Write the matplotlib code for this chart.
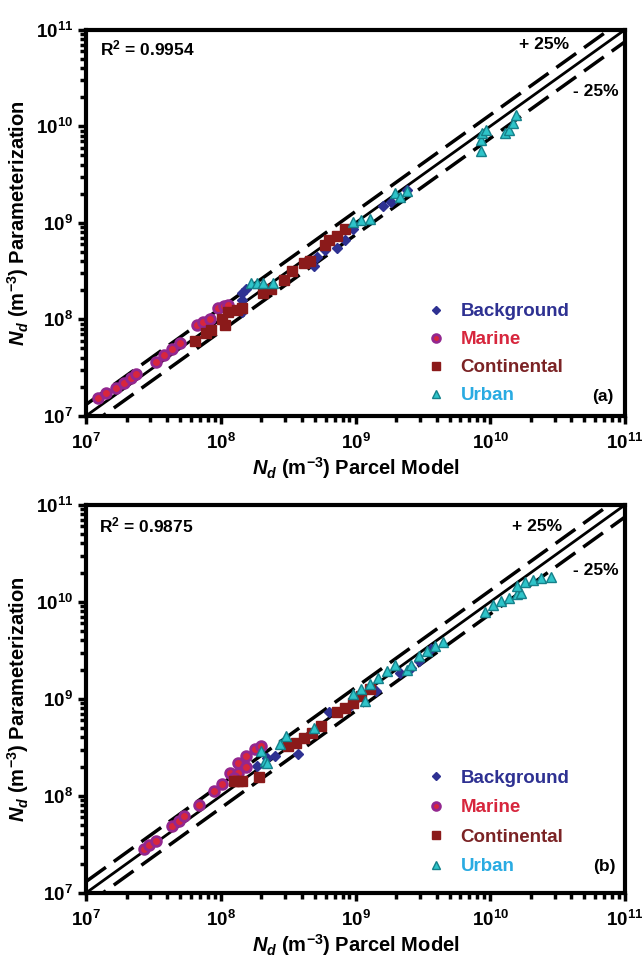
import numpy as np
import matplotlib
matplotlib.use("Agg")
import matplotlib.pyplot as plt
from matplotlib.ticker import LogLocator, FuncFormatter, NullFormatter

plt.rcParams['font.family'] = ['Liberation Sans', 'DejaVu Sans']
plt.rcParams['font.weight'] = 'bold'
plt.rcParams['mathtext.fontset'] = 'custom'
plt.rcParams['mathtext.rm'] = 'Liberation Sans:bold'
plt.rcParams['mathtext.bf'] = 'Liberation Sans:bold'
plt.rcParams['mathtext.it'] = 'Liberation Sans:bold:italic'

# log10 values, panel (a)
a_bg_x = [8.16, 8.16, 8.19, 8.16, 8.69, 8.71, 8.77, 8.86, 8.92, 8.98, 9.20, 9.26, 9.38]
a_bg_y = [8.20, 8.27, 8.31, 8.07, 8.55, 8.65, 8.72, 8.74, 8.82, 8.93, 9.17, 9.22, 9.34]
a_mar_x = [7.09, 7.15, 7.22, 7.28, 7.33, 7.37, 7.52, 7.58, 7.64, 7.70, 7.82, 7.87, 7.92, 7.98, 8.02, 8.05]
a_mar_y = [7.18, 7.24, 7.29, 7.34, 7.39, 7.43, 7.56, 7.63, 7.69, 7.75, 7.94, 7.97, 8.00, 8.12, 8.14, 8.15]
a_con_x = [7.81, 7.89, 7.93, 8.01, 8.03, 8.05, 8.12, 8.16, 8.31, 8.37, 8.47, 8.53, 8.62, 8.66,
           8.77, 8.80, 8.86, 8.92]
a_con_y = [7.77, 7.86, 7.89, 8.00, 7.94, 8.08, 8.10, 8.12, 8.27, 8.31, 8.41, 8.50, 8.58, 8.60,
           8.77, 8.82, 8.86, 8.93]
a_urb_x = [8.22, 8.27, 8.31, 8.39, 8.98, 9.04, 9.11, 9.29, 9.33, 9.38, 9.93, 9.93, 9.94, 9.97,
           10.11, 10.14, 10.17, 10.19]
a_urb_y = [8.38, 8.38, 8.38, 8.38, 9.01, 9.03, 9.04, 9.31, 9.27, 9.33, 9.74, 9.86, 9.93, 9.96,
           9.93, 9.96, 10.03, 10.12]

# log10 values, panel (b)
b_bg_x = [8.27, 8.34, 8.40, 8.57, 8.80, 8.96, 8.99, 9.15, 9.33, 9.41, 9.47, 9.56]
b_bg_y = [8.31, 8.39, 8.41, 8.43, 8.86, 8.93, 8.98, 9.08, 9.27, 9.32, 9.39, 9.51]
b_mar_x = [7.43, 7.47, 7.52, 7.64, 7.69, 7.73, 7.84, 7.95, 8.01, 8.07, 8.13, 8.19, 8.25, 8.30,
           8.13, 8.19, 8.10]
b_mar_y = [7.45, 7.49, 7.53, 7.69, 7.74, 7.79, 7.91, 8.05, 8.12, 8.24, 8.34, 8.41, 8.48, 8.51,
           8.24, 8.30, 8.18]
b_con_x = [8.10, 8.13, 8.16, 8.28, 8.50, 8.56, 8.62, 8.68, 8.74, 8.86, 8.92, 8.98, 9.04, 9.11]
b_con_y = [8.15, 8.15, 8.15, 8.19, 8.51, 8.54, 8.60, 8.65, 8.72, 8.86, 8.91, 8.96, 9.03, 9.10]
b_urb_x = [8.30, 8.33, 8.34, 8.44, 8.48, 8.69, 8.98, 9.04, 9.07, 9.11, 9.17, 9.23, 9.29, 9.38,
           9.41, 9.47, 9.53, 9.59, 9.65, 9.96, 10.02, 10.08, 10.14, 10.20, 10.23, 10.20, 10.26,
           10.32, 10.38, 10.45]
b_urb_y = [8.46, 8.36, 8.34, 8.53, 8.62, 8.70, 9.05, 9.10, 8.98, 9.15, 9.22, 9.29, 9.35, 9.30,
           9.35, 9.44, 9.49, 9.54, 9.59, 9.90, 9.97, 10.01, 10.04, 10.08, 10.09, 10.16, 10.20,
           10.23, 10.25, 10.26]

categories = ['Background', 'Marine', 'Continental', 'Urban']
r2_values = ['0.9954', '0.9875']
panel_tags = ['(a)', '(b)']
upper_factor = 1.31
lower_factor = 0.75

marker_styles = {
    'Background': dict(marker='D', ms=5, mfc='#2e3192', mec='#2e3192', mew=1),
    'Marine': dict(marker='o', ms=7, mfc='#d7263d', mec='#93278f', mew=2),
    'Continental': dict(marker='s', ms=7, mfc='#8b1a1a', mec='#8b1a1a', mew=1),
    'Urban': dict(marker='^', ms=7, mfc='#2ec4c9', mec='#15808a', mew=1),
}
label_colors = ['#2e3192', '#d7263d', '#7b2325', '#29abe2']


def tick_fmt(v, pos):
    return r'$10^{%d}$' % int(round(np.log10(v)))


def draw_panel(ax, series, r2, tag, txt_pos, leg_top, leg_space):
    lims = np.array([1e7, 1e11])
    ax.plot(lims, lims, color='black', lw=2.0, zorder=2)
    ax.plot(lims, lims * upper_factor, color='black', lw=2.5, ls=(0, (7, 2.8)), zorder=2)
    ax.plot(lims, lims * lower_factor, color='black', lw=2.5, ls=(0, (7, 2.8)), zorder=2)

    for name, (xs, ys) in zip(categories, series):
        ax.plot(10 ** np.array(xs), 10 ** np.array(ys), ls='none', label=name,
                zorder=3, **marker_styles[name])

    ax.set_xscale('log')
    ax.set_yscale('log')
    ax.set_xlim(1e7, 1e11)
    ax.set_ylim(1e7, 1e11)

    for sp in ax.spines.values():
        sp.set_linewidth(3)
    ax.xaxis.set_major_locator(LogLocator(base=10, numticks=10))
    ax.yaxis.set_major_locator(LogLocator(base=10, numticks=10))
    ax.xaxis.set_minor_locator(LogLocator(base=10, subs=np.arange(2, 10), numticks=10))
    ax.yaxis.set_minor_locator(LogLocator(base=10, subs=np.arange(2, 10), numticks=10))
    ax.xaxis.set_major_formatter(FuncFormatter(tick_fmt))
    ax.yaxis.set_major_formatter(FuncFormatter(tick_fmt))
    ax.xaxis.set_minor_formatter(NullFormatter())
    ax.yaxis.set_minor_formatter(NullFormatter())
    ax.tick_params(which='major', direction='out', length=6, width=2.5, labelsize=13.5)
    ax.tick_params(which='minor', direction='out', length=4, width=2.5)
    ax.tick_params(axis='x', pad=6)

    ax.set_xlabel(r'$N_d$ (m$^{-3}$) Parcel Model', fontsize=14.5, fontweight='bold', labelpad=2)
    ax.set_ylabel(r'$N_d$ (m$^{-3}$) Parameterization', fontsize=14.5, fontweight='bold', labelpad=3)

    (r2_xy, plus_xy, minus_xy, tag_xy) = txt_pos
    ax.text(*r2_xy, r'R$^2$ = ' + r2, transform=ax.transAxes, fontsize=12.5,
            fontweight='bold', va='center', ha='left')
    ax.text(*plus_xy, '+ 25%', transform=ax.transAxes, fontsize=12.5,
            fontweight='bold', va='center', ha='right')
    ax.text(*minus_xy, '- 25%', transform=ax.transAxes, fontsize=12.5,
            fontweight='bold', va='center', ha='right')
    ax.text(*tag_xy, tag, transform=ax.transAxes, fontsize=12.5,
            fontweight='bold', va='center', ha='right')

    leg = ax.legend(loc='upper left', bbox_to_anchor=(0.632, leg_top), frameon=False,
                    borderaxespad=0, borderpad=0,
                    fontsize=13.5, handletextpad=0.8, labelspacing=leg_space,
                    handlelength=1.0, markerscale=0.8, labelcolor=label_colors)
    for t in leg.get_texts():
        t.set_fontweight('bold')


fig = plt.figure(figsize=(6.43, 9.58), dpi=100)
ax_a = fig.add_axes([0.134, 0.566, 0.838, 0.403])
ax_b = fig.add_axes([0.134, 0.068, 0.838, 0.405])

draw_panel(ax_a, [(a_bg_x, a_bg_y), (a_mar_x, a_mar_y), (a_con_x, a_con_y), (a_urb_x, a_urb_y)],
           r2_values[0], panel_tags[0],
           ((0.026, 0.951), (0.896, 0.961), (0.989, 0.839), (0.978, 0.049)), 0.292, 0.58)
draw_panel(ax_b, [(b_bg_x, b_bg_y), (b_mar_x, b_mar_y), (b_con_x, b_con_y), (b_urb_x, b_urb_y)],
           r2_values[1], panel_tags[1],
           ((0.023, 0.948), (0.884, 0.943), (0.989, 0.832), (0.983, 0.067)), 0.318, 0.66)

fig.savefig('out.png', dpi=100)
